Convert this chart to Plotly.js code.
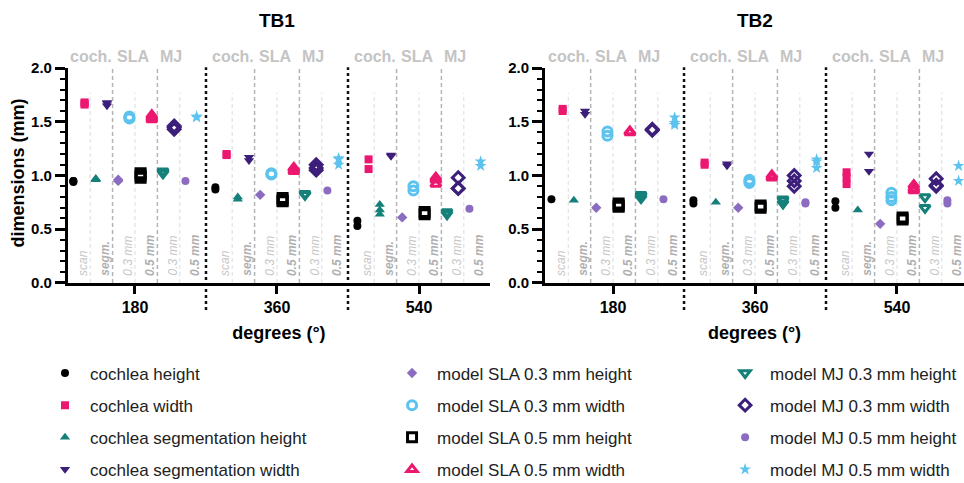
<!DOCTYPE html>
<html><head><meta charset="utf-8">
<script src="https://cdn.plot.ly/plotly-3.0.1.min.js"></script>
<style>html,body{margin:0;padding:0;background:#fff}#chart{width:964px;height:483px}</style>
</head><body><div id="chart"></div>
<script>
// ---------- data ----------
const degrees = ['180', '360', '540'];
const panelTitles = ['TB1', 'TB2'];
const yTitle = 'dimensions (mm)';
const xTitle = 'degrees (°)';
const headLabels = ['coch.', 'SLA', 'MJ'];
const subLabels = ['scan', 'segm.', '0.3 mm', '0.5 mm', '0.3 mm', '0.5 mm'];
const seriesNames = [
  'cochlea height', 'cochlea width', 'cochlea segmentation height', 'cochlea segmentation width',
  'model SLA 0.3 mm height', 'model SLA 0.3 mm width', 'model SLA 0.5 mm height', 'model SLA 0.5 mm width',
  'model MJ 0.3 mm height', 'model MJ 0.3 mm width', 'model MJ 0.5 mm height', 'model MJ 0.5 mm width'];

// TB1 measurements (mm), per degree group [180, 360, 540], replicate values
const tb1CochleaHeight = [[0.94, 0.95, 0.95], [0.87, 0.89], [0.53, 0.58]];
const tb1CochleaWidth = [[1.66, 1.67, 1.68], [1.19, 1.20], [1.06, 1.15]];
const tb1SegHeight = [[0.96, 0.97, 0.97], [0.78, 0.80], [0.64, 0.68, 0.73]];
const tb1SegWidth = [[1.65, 1.67, 1.68], [1.14, 1.17], [1.18, 1.19]];
const tb1Sla03Height = [[0.95, 0.96], [0.82], [0.61]];
const tb1Sla03Width = [[1.53, 1.54, 1.55], [1.01, 1.02], [0.86, 0.90]];
const tb1Sla05Height = [[0.98, 1.00, 1.02], [0.76, 0.77, 0.79], [0.64, 0.66]];
const tb1Sla05Width = [[1.52, 1.54, 1.56], [1.04, 1.06, 1.07], [0.92, 0.96, 0.98]];
const tb1Mj03Height = [[1.02, 1.03, 1.04], [0.82, 0.83], [0.64, 0.66]];
const tb1Mj03Width = [[1.43, 1.45, 1.46], [1.05, 1.07, 1.10], [0.88, 0.88, 0.98]];
const tb1Mj05Height = [[0.95], [0.86], [0.69]];
const tb1Mj05Width = [[1.54, 1.55], [1.10, 1.15, 1.16], [1.09, 1.13]];

// TB2 measurements (mm)
const tb2CochleaHeight = [[0.78], [0.74, 0.77], [0.70, 0.76]];
const tb2CochleaWidth = [[1.60, 1.62], [1.10, 1.12], [0.92, 0.98, 1.03]];
const tb2SegHeight = [[0.77], [0.75], [0.68]];
const tb2SegWidth = [[1.57, 1.60], [1.09, 1.11], [1.04, 1.20]];
const tb2Sla03Height = [[0.70], [0.70], [0.55]];
const tb2Sla03Width = [[1.37, 1.41], [0.93, 0.95, 0.96], [0.77, 0.80, 0.84]];
const tb2Sla05Height = [[0.71, 0.72, 0.74], [0.70, 0.72], [0.59, 0.61]];
const tb2Sla05Width = [[1.40, 1.41], [0.98, 1.00], [0.86, 0.88, 0.91]];
const tb2Mj03Height = [[0.79, 0.81, 0.82], [0.74, 0.77, 0.78], [0.70, 0.80]];
const tb2Mj03Width = [[1.42, 1.43], [0.90, 0.95, 1.00], [0.90, 0.91, 0.97]];
const tb2Mj05Height = [[0.78], [0.74, 0.75], [0.74, 0.77]];
const tb2Mj05Width = [[1.47, 1.49, 1.54], [1.07, 1.13, 1.15], [0.95, 1.09]];

const tb1Series = [tb1CochleaHeight, tb1CochleaWidth, tb1SegHeight, tb1SegWidth, tb1Sla03Height, tb1Sla03Width,
  tb1Sla05Height, tb1Sla05Width, tb1Mj03Height, tb1Mj03Width, tb1Mj05Height, tb1Mj05Width];
const tb2Series = [tb2CochleaHeight, tb2CochleaWidth, tb2SegHeight, tb2SegWidth, tb2Sla03Height, tb2Sla03Width,
  tb2Sla05Height, tb2Sla05Width, tb2Mj03Height, tb2Mj03Width, tb2Mj05Height, tb2Mj05Width];

// ---------- styles ----------
const BLACK = '#000000', PINK = '#ec1870', TEAL = '#15807a', DPURP = '#3c1f7a', LAV = '#8b6cc0', LBLUE = '#5cc3ee';
const seriesColors = [BLACK, PINK, TEAL, DPURP, LAV, LBLUE, BLACK, PINK, TEAL, DPURP, LAV, LBLUE];
const seriesSymbols = ['circle', 'square', 'triangle-up', 'triangle-down', 'diamond', 'circle-open',
  'square-open', 'triangle-up-open', 'triangle-down-open', 'diamond-open', 'circle', 'star'];
const seriesSizes = [8, 8, 9, 9, 8, 9, 9, 9, 9, 9, 8, 9];
const legendIds = ['legend', 'legend', 'legend', 'legend', 'legend2', 'legend2', 'legend2', 'legend2',
  'legend3', 'legend3', 'legend3', 'legend3'];

const SLOT = 0.0789;           // width of one measurement slot, in degree-group units
const FONT = 'Liberation Sans, Arial, sans-serif';

function slotX(g, s) { return g + (s - 5.5) * SLOT; }

const traces = [];
[tb1Series, tb2Series].forEach((series, p) => {
  series.forEach((groups, s) => {
    const xs = [], ys = [];
    groups.forEach((vals, g) => vals.forEach(v => { xs.push(slotX(g, s)); ys.push(v); }));
    traces.push({
      type: 'scatter', mode: 'markers', x: xs, y: ys,
      xaxis: p === 0 ? 'x' : 'x2', yaxis: p === 0 ? 'y' : 'y2',
      name: seriesNames[s], legendgroup: 'g' + s, legend: legendIds[s],
      showlegend: p === 0, cliponaxis: false, hoverinfo: 'skip',
      marker: { color: seriesColors[s], symbol: seriesSymbols[s], size: seriesSizes[s],
        line: { color: seriesColors[s], width: seriesSymbols[s].endsWith('open') ? 3 : 0 } }
    });
  });
});

// ---------- decorations ----------
const shapes = [], annotations = [];
['x', 'x2'].forEach((xr, p) => {
  const yr = p === 0 ? 'y' : 'y2';
  for (let g = 0; g < degrees.length; g++) {
    [1.5, 5.5, 9.5].forEach(s => shapes.push({ type: 'line', layer: 'below', xref: xr, yref: yr,
      x0: slotX(g, s), x1: slotX(g, s), y0: 0, y1: 1.77, line: { color: '#dcdcdc', width: 1, dash: '4px,3px' } }));
    [3.5, 7.5].forEach(s => shapes.push({ type: 'line', layer: 'below', xref: xr, yref: yr,
      x0: slotX(g, s), x1: slotX(g, s), y0: 0, y1: 2, line: { color: '#b4b4b4', width: 1.5, dash: '4px,3px' } }));
    if (g < degrees.length - 1) {
      shapes.push({ type: 'line', layer: 'below', xref: xr, yref: 'paper',
        x0: g + 0.5, x1: g + 0.5, y0: 0.358, y1: 0.861, line: { color: '#111', width: 2.5, dash: '3px,3px' } });
    }
    [1.6, 5.35, 8.75].forEach((pos, k) => annotations.push({ xref: xr, yref: 'paper', x: slotX(g, pos), y: 0.884,
      text: headLabels[k], showarrow: false, xanchor: 'center', yanchor: 'middle',
      font: { family: FONT, size: 16, weight: 700, color: '#c4c4c4' } }));
    subLabels.forEach((t, k) => annotations.push({ xref: xr, yref: yr, x: slotX(g, 2 * k + 0.85), y: 0,
      yshift: 5, text: t, textangle: -90, showarrow: false, xanchor: 'center', yanchor: 'bottom',
      font: { family: FONT, size: 12, style: 'italic', weight: k % 2 ? 700 : 400, color: k % 2 ? '#b0b0b0' : '#c6c6c6' } }));
  }
  annotations.push({ xref: xr, yref: 'paper', x: 1, y: 0.957, text: panelTitles[p], showarrow: false,
    xanchor: 'center', yanchor: 'middle', font: { family: FONT, size: 19, weight: 700, color: '#000' } });
});
// y-axis title of the left panel
annotations.push({ xref: 'paper', yref: 'paper', x: 0.0187, y: 0.641, text: yTitle, textangle: -90,
  showarrow: false, xanchor: 'center', yanchor: 'middle', font: { family: FONT, size: 18, weight: 700, color: '#000' } });

const tickFont = { family: FONT, size: 16, weight: 700, color: '#000' };
function xAxis(domain, range) {
  return { domain: domain, range: range, tickvals: [0, 1, 2], ticktext: degrees, ticks: 'outside',
    ticklen: 8, tickwidth: 3, tickcolor: '#000', showline: true, linewidth: 3, linecolor: '#000',
    showgrid: false, zeroline: false, tickfont: tickFont, automargin: false,
    title: { text: xTitle, standoff: 12, font: { family: FONT, size: 18, weight: 700, color: '#000' } } };
}
function yAxis(anchor) {
  return { domain: [0.4141, 0.8592], range: [0, 2], dtick: 0.5, tick0: 0, tickformat: '.1f', anchor: anchor,
    ticks: 'outside', ticklen: 10, tickwidth: 3, tickcolor: '#000', showline: true, linewidth: 3, linecolor: '#000',
    showgrid: false, zeroline: false, automargin: false, tickfont: { family: FONT, size: 15, weight: 700, color: '#000' },
    minor: { dtick: 0.1, ticks: 'outside', ticklen: 5, tickwidth: 2, tickcolor: '#000', showgrid: false } };
}

const legendBase = { xref: 'container', yref: 'container', yanchor: 'top', xanchor: 'left', y: 0.264,
  bgcolor: 'rgba(0,0,0,0)', itemwidth: 40, tracegroupgap: 7, font: { family: FONT, size: 17, color: '#222' } };

const layout = {
  width: 964, height: 483, margin: { l: 0, r: 0, t: 0, b: 0, autoexpand: false },
  paper_bgcolor: '#fff', plot_bgcolor: '#fff', font: { family: FONT },
  xaxis: Object.assign(xAxis([0.0705, 0.5083], [-0.472, 2.5]), { anchor: 'y' }),
  yaxis: yAxis('x'),
  xaxis2: Object.assign(xAxis([0.5654, 1.0], [-0.479, 2.472]), { anchor: 'y2' }),
  yaxis2: yAxis('x2'),
  legend: Object.assign({}, legendBase, { x: 0.0415 }),
  legend2: Object.assign({}, legendBase, { x: 0.4015 }),
  legend3: Object.assign({}, legendBase, { x: 0.747 }),
  shapes: shapes, annotations: annotations, showlegend: true
};

Plotly.newPlot('chart', traces, layout, { staticPlot: true, displayModeBar: false });
</script></body></html>
